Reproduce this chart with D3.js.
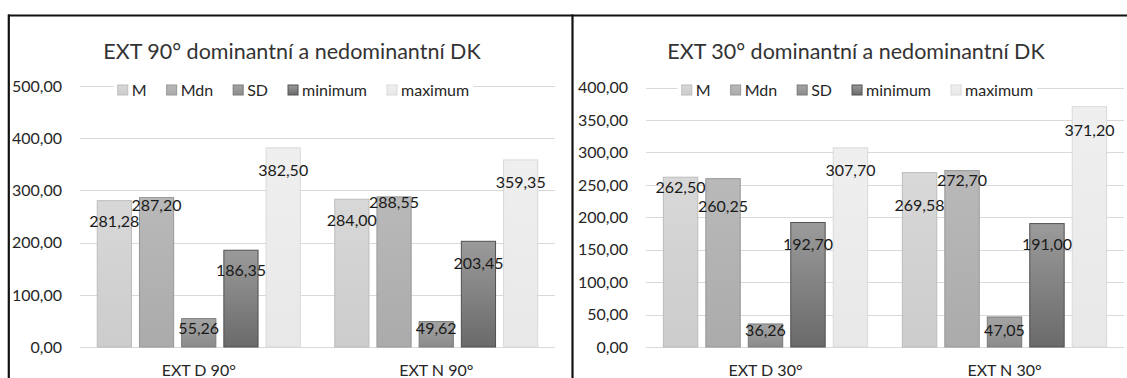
<!DOCTYPE html>
<html>
<head>
<meta charset="utf-8">
<script src="https://cdn.jsdelivr.net/npm/d3@7"></script>
<style>
  html, body { margin: 0; padding: 0; background: #fff; }
  svg { display: block; }
  text { font-family: Lato, "Open Sans", sans-serif; }
</style>
</head>
<body>
<svg id="chart" width="1127" height="378"></svg>
<script>
// Series shown in each chart
const seriesNames = ["M", "Mdn", "SD", "minimum", "maximum"];

// EXT 90°: dominant (D) and non-dominant (N) limb
const categories90 = ["EXT D 90°", "EXT N 90°"];
const ext90D = [281.28, 287.20, 55.26, 186.35, 382.50];
const ext90N = [284.00, 288.55, 49.62, 203.45, 359.35];
const ticks90 = [0, 100, 200, 300, 400, 500];

// EXT 30°: dominant (D) and non-dominant (N) limb
const categories30 = ["EXT D 30°", "EXT N 30°"];
const ext30D = [262.50, 260.25, 36.26, 192.70, 307.70];
const ext30N = [269.58, 272.70, 47.05, 191.00, 371.20];
const ticks30 = [0, 50, 100, 150, 200, 250, 300, 350, 400];

// Vertical nudges (px below the bar top) for each value label
const labelDrop90 = [[21, 8, 10, 21, 23], [21, 6, 7, 22, 23]];
const labelDrop30 = [[11, 28, 6.5, 22, 23], [33, 10, 13.5, 21, 24]];

// Bar fills (top → bottom) and outlines per series
const fills = [
  ["#d8d8d8", "#cccccc", "#bcbcbc"],
  ["#b9b9b9", "#ababab", "#979797"],
  ["#a4a4a4", "#8b8b8b", "#7a7a7a"],
  ["#9b9b9b", "#6a6a6a", "#505050"],
  ["#efefef", "#e8e8e8", "#d9d9d9"]
];

const czLocale = d3.formatLocale({ decimal: ",", thousands: " ", grouping: [3], currency: ["", " Kč"] });
const fmt = czLocale.format(".2f");

const svg = d3.select("#chart");
const defs = svg.append("defs");
fills.forEach((f, i) => {
  const g = defs.append("linearGradient")
    .attr("id", "grad" + i).attr("x1", 0).attr("y1", 0).attr("x2", 0).attr("y2", 1);
  g.append("stop").attr("offset", "0%").attr("stop-color", f[0]);
  g.append("stop").attr("offset", "100%").attr("stop-color", f[1]);
});

svg.append("rect").attr("width", 1127).attr("height", 378).attr("fill", "#fff");

const panels = [
  { x0: 9, title: "EXT 90° dominantní a nedominantní DK", categories: categories90,
    values: [ext90D, ext90N], ticks: ticks90, yMax: 500, yTop: 86,
    plotL: 80, plotR: 555, drops: labelDrop90 },
  { x0: 573, title: "EXT 30° dominantní a nedominantní DK", categories: categories30,
    values: [ext30D, ext30N], ticks: ticks30, yMax: 400, yTop: 87.5,
    plotL: 646, plotR: 1124, drops: labelDrop30 }
];

const yZero = 347;

panels.forEach(p => {
  const g = svg.append("g");
  const y = d3.scaleLinear().domain([0, p.yMax]).range([yZero, p.yTop]);
  const x0 = d3.scaleBand().domain(p.categories).range([p.plotL, p.plotR]).padding(0);
  const x1 = d3.scaleBand().domain(seriesNames).range([0, x0.bandwidth()])
    .paddingInner(0.166).paddingOuter(0.397);

  // gridlines
  g.append("g").selectAll("line").data(p.ticks).join("line")
    .attr("x1", p.plotL).attr("x2", p.plotR)
    .attr("y1", d => Math.round(y(d)) + 0.5).attr("y2", d => Math.round(y(d)) + 0.5)
    .attr("stroke", "#d9d9d9").attr("stroke-width", 1);

  // y tick labels
  g.append("g").selectAll("text").data(p.ticks).join("text")
    .attr("x", p.plotL - 18).attr("y", d => y(d))
    .attr("dy", "0.36em").attr("text-anchor", "end")
    .attr("font-size", 16).attr("fill", "#262626")
    .text(d => fmt(d));

  // bars
  const groups = g.append("g").selectAll("g").data(p.categories).join("g")
    .attr("transform", c => `translate(${x0(c)},0)`);
  groups.each(function (c, ci) {
    const rows = seriesNames.map((s, si) => ({ s, si, v: p.values[ci][si], drop: p.drops[ci][si] }));
    d3.select(this).selectAll("rect").data(rows).join("rect")
      .attr("x", d => x1(d.s) + 0.5).attr("width", x1.bandwidth() - 1)
      .attr("y", d => y(d.v) + 0.5).attr("height", d => yZero - y(d.v) - 0.5)
      .attr("fill", d => `url(#grad${d.si})`)
      .attr("stroke", d => fills[d.si][2]).attr("stroke-width", 1);
    d3.select(this).selectAll("text").data(rows).join("text")
      .attr("x", d => x1(d.s) + x1.bandwidth() / 2)
      .attr("y", d => y(d.v) + d.drop)
      .attr("dy", "0.36em").attr("text-anchor", "middle")
      .attr("font-size", 16).attr("fill", "#1a1a1a")
      .text(d => fmt(d.v));
  });

  // category labels
  g.append("g").selectAll("text").data(p.categories).join("text")
    .attr("x", c => x0(c) + x0.bandwidth() / 2).attr("y", 370)
    .attr("dy", "0.36em").attr("text-anchor", "middle")
    .attr("font-size", 16).attr("fill", "#262626")
    .text(c => c);

  // title
  g.append("text").attr("x", p.x0 + 283).attr("y", 51)
    .attr("dy", "0.36em").attr("text-anchor", "middle")
    .attr("font-size", 21.5).attr("fill", "#333")
    .text(p.title);

  // legend (white box over the top gridline)
  const leg = g.append("g");
  const box = leg.append("rect").attr("fill", "#fff");
  const gap = 20;
  let cx = 0;
  seriesNames.forEach((s, i) => {
    const it = leg.append("g");
    it.append("rect").attr("x", cx).attr("y", -5).attr("width", 10).attr("height", 10)
      .attr("fill", `url(#grad${i})`).attr("stroke", fills[i][2]).attr("stroke-width", 1);
    const t = it.append("text").attr("x", cx + 14).attr("y", 0).attr("dy", "0.36em")
      .attr("font-size", 16).attr("fill", "#262626").text(s);
    cx += 14 + t.node().getComputedTextLength() + gap;
  });
  const legW = cx - gap;
  box.attr("x", -4).attr("y", -11).attr("width", legW + 8).attr("height", 22);
  leg.attr("transform", `translate(${p.x0 + 284.5 - legW / 2},90)`);
});

// frame lines around the two charts
const frame = svg.append("g").attr("stroke", "#111").attr("stroke-width", 2.2).attr("fill", "none");
frame.append("line").attr("x1", 8).attr("x2", 1127).attr("y1", 15.5).attr("y2", 15.5);
frame.append("line").attr("x1", 8.8).attr("x2", 8.8).attr("y1", 14.5).attr("y2", 378);
frame.append("line").attr("x1", 572.5).attr("x2", 572.5).attr("y1", 14.5).attr("y2", 378);
</script>
</body>
</html>
